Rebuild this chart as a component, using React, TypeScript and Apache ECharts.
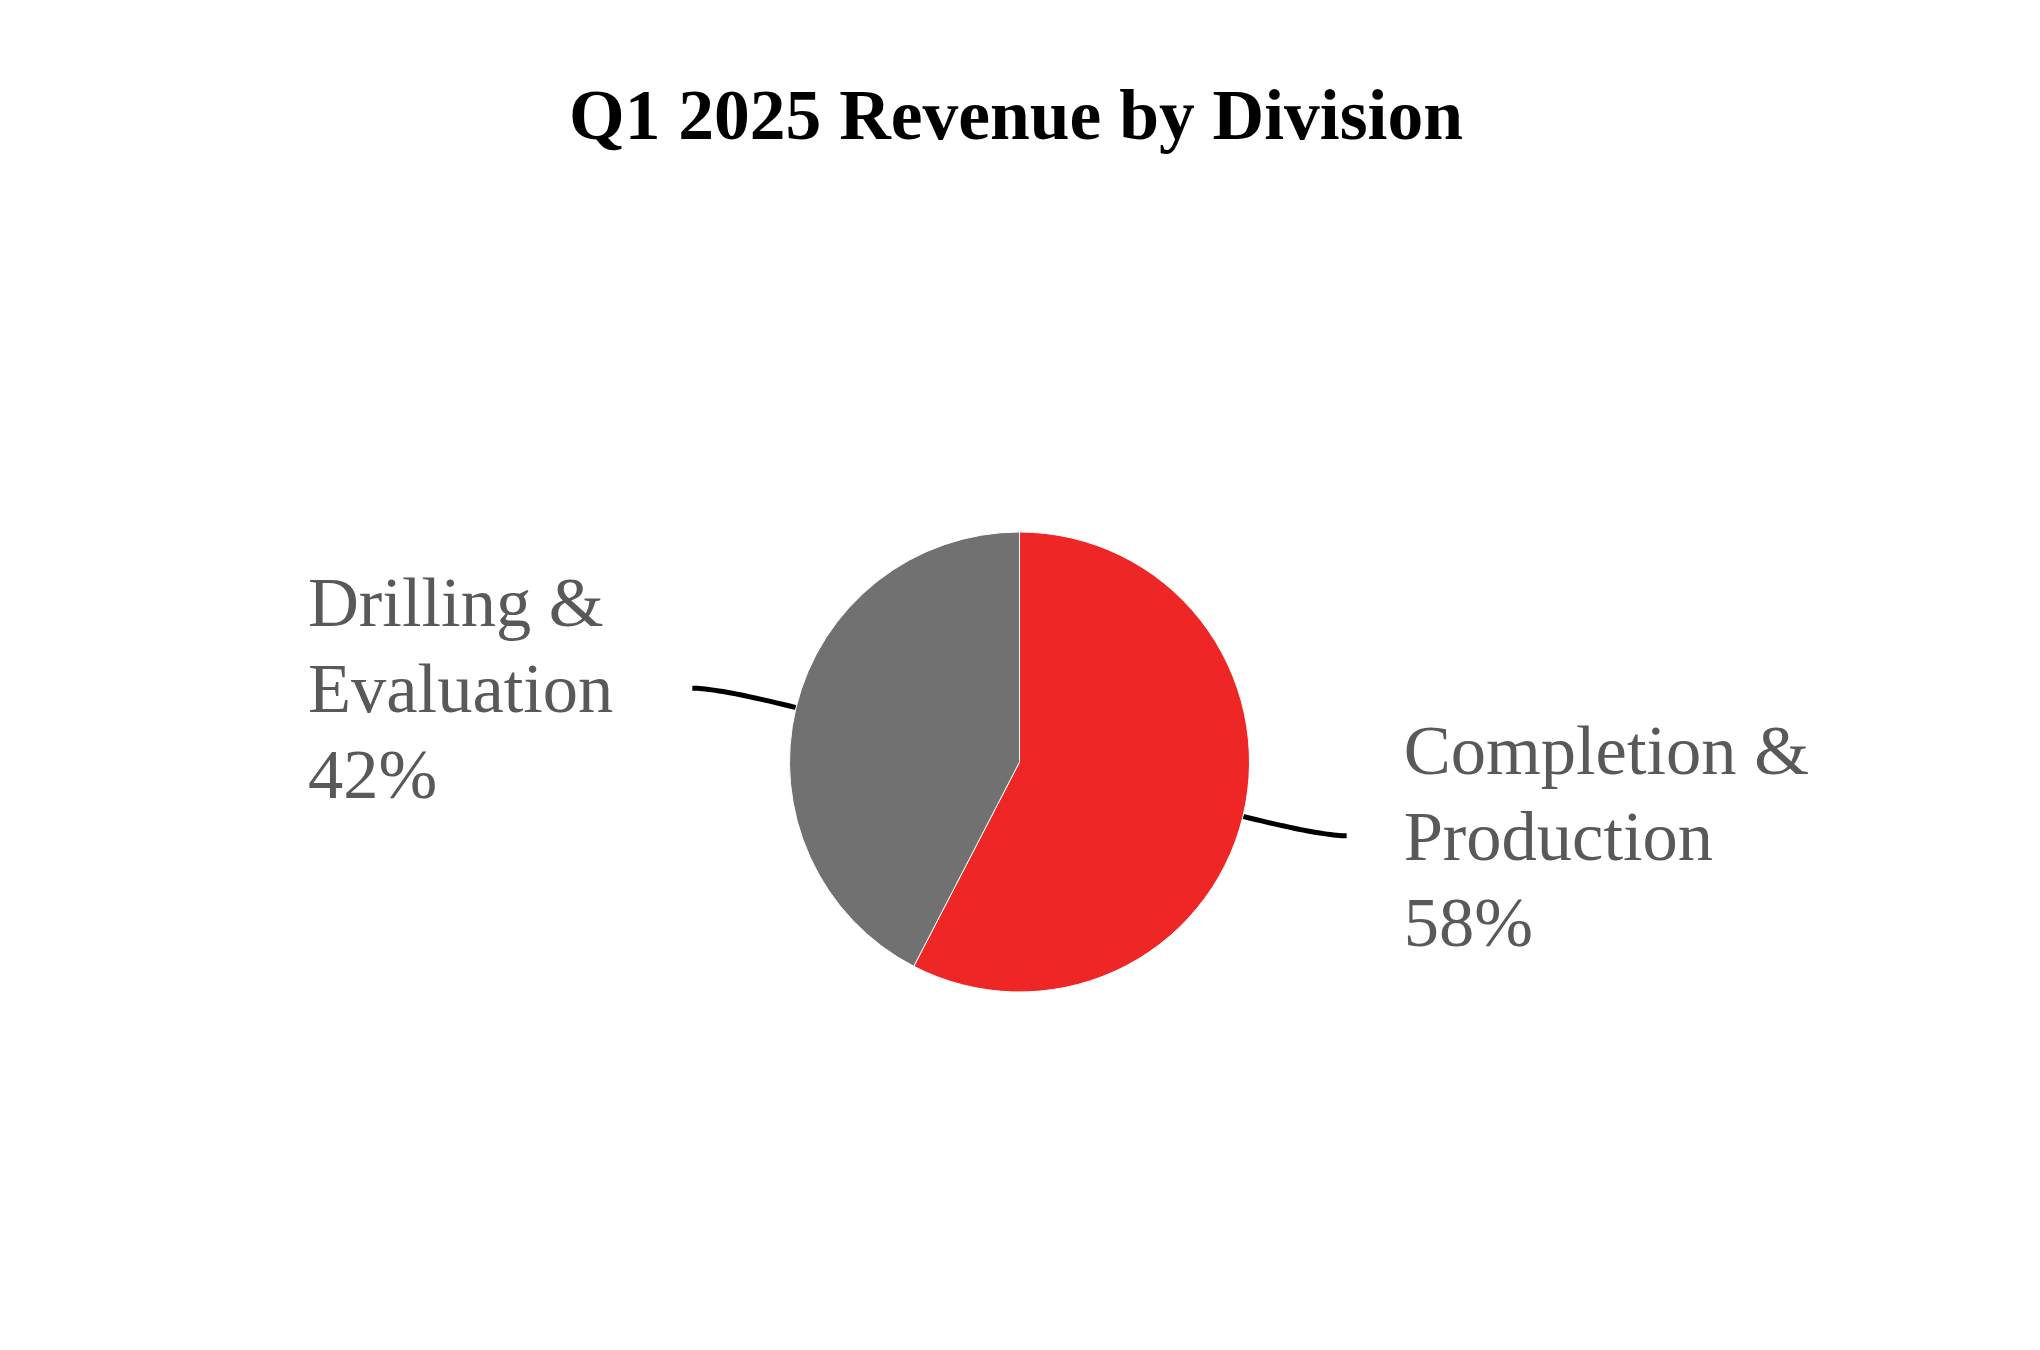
import React, { useEffect, useRef } from "react";
import * as echarts from "echarts";

const TITLE = "Q1 2025 Revenue by Division";
const categories = ["Completion & Production", "Drilling & Evaluation"];
const values = [57.6, 42.4];
const colors = ["#EE2726", "#717171"];

const SERIF = "'Liberation Serif', 'Times New Roman', serif";

export default function App() {
  const ref = useRef<HTMLDivElement>(null);
  useEffect(() => {
    const chart = echarts.init(ref.current!, null, { renderer: "svg" });
    chart.setOption({
      animation: false,
      backgroundColor: "#ffffff",
      title: {
        text: TITLE,
        left: 1011,
        textAlign: "center",
        top: 73,
        textStyle: {
          fontFamily: SERIF,
          fontWeight: "bold",
          fontSize: 71.5,
          color: "#000000",
        },
      },
      series: [
        {
          type: "pie",
          center: [1019.5, 762],
          radius: 230,
          startAngle: 90,
          clockwise: true,
          percentPrecision: 0,
          avoidLabelOverlap: false,
          itemStyle: { borderColor: "#ffffff", borderWidth: 1 },
          data: categories.map((name, i) => ({
            name,
            value: values[i],
            itemStyle: { color: colors[i] },
            label: { distanceToLabelLine: i === 0 ? 57 : 79 },
          })),
          label: {
            show: true,
            position: "outside",
            fontFamily: SERIF,
            fontSize: 70.5,
            lineHeight: 86,
            color: "#595959",
            formatter: (p: any) => {
              const parts = String(p.name).split(" & ");
              return `{t|${parts[0]} &}\n{t|${parts[1]}}\n{t|${p.percent}%}`;
            },
            rich: {
              t: {
                fontFamily: SERIF,
                fontSize: 70.5,
                lineHeight: 86,
                color: "#595959",
                align: "left",
              },
            },
          },
          labelLine: {
            show: true,
            length: 82,
            length2: 24,
            smooth: false,
            lineStyle: { color: "#000000", width: 5, cap: "butt", join: "round" },
          },
          labelLayout: (params: any) => {
            const pts = params.labelLinePoints;
            if (!pts || pts.length < 3) return {};
            const p0 = pts[0];
            const p2 = pts[pts.length - 1];
            // gentle arc: quadratic curve from the slice edge to the line end,
            // flattening out horizontally toward the label
            const c = [p0[0] + (p2[0] - p0[0]) * 0.75, p2[1]];
            const out: number[][] = [];
            const n = 24;
            for (let k = 0; k <= n; k++) {
              const t = k / n;
              const a = (1 - t) * (1 - t);
              const b = 2 * t * (1 - t);
              const d = t * t;
              out.push([
                a * p0[0] + b * c[0] + d * p2[0],
                a * p0[1] + b * c[1] + d * p2[1],
              ]);
            }
            return { labelLinePoints: out };
          },
          emphasis: { disabled: true },
        },
      ],
    });
    return () => chart.dispose();
  }, []);
  return (
    <div
      ref={ref}
      style={{ position: "absolute", left: 0, top: 0, width: 2040, height: 1350 }}
    />
  );
}
